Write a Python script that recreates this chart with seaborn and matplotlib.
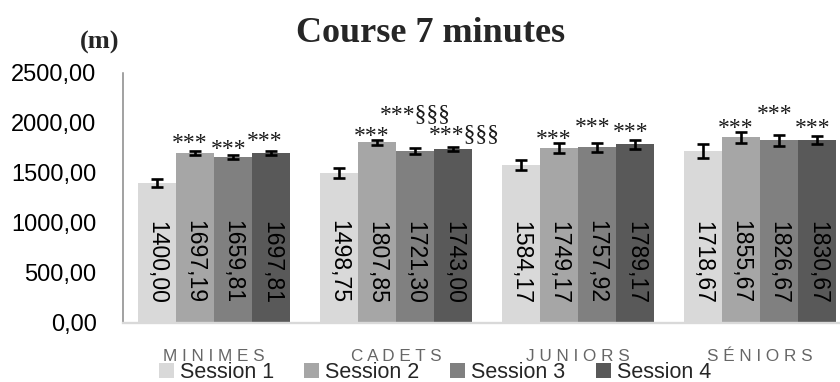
import numpy as np
import pandas as pd
import seaborn as sns
import matplotlib
matplotlib.use("Agg")
import matplotlib.pyplot as plt
from matplotlib import font_manager
from matplotlib.patches import Rectangle
from matplotlib.ticker import FuncFormatter

# ---------------- data ----------------
categories = ["MINIMES", "CADETS", "JUNIORS", "SÉNIORS"]
sessions = ["Session 1", "Session 2", "Session 3", "Session 4"]
session1 = [1400.00, 1498.75, 1584.17, 1718.67]
session2 = [1697.19, 1807.85, 1749.17, 1855.67]
session3 = [1659.81, 1721.30, 1757.92, 1826.67]
session4 = [1697.81, 1743.00, 1789.17, 1830.67]
err1 = [37, 53, 50, 70]
err2 = [20, 23, 48, 57]
err3 = [23, 27, 45, 52]
err4 = [20, 18, 45, 42]
ann1 = ["", "", "", ""]
ann2 = ["***", "***", "***", "***"]
ann3 = ["***", "***§§§", "***", "***"]
ann4 = ["***", "***§§§", "***", "***"]
yticks = [0, 500, 1000, 1500, 2000, 2500]

# ---------------- style ----------------
colors = ["#d9d9d9", "#a6a6a6", "#808080", "#595959"]
# label offsets (points) above error-bar tops, and horizontal nudges
ann_dy = [[0, 0, 0, 0], [2, -1.5, -1, -1.5], [0, 20, 7, 11], [3, 5, 1, 1.5]]
ann_dx = [[0, 0, 0, 0], [-3.5, -3.5, -3.5, -3.5], [-3.5, 0, -3.5, -3.5], [-5, 8, -3.5, -3.5]]

names = {f.name for f in font_manager.fontManager.ttflist}
NARROW = "Liberation Sans Narrow" if "Liberation Sans Narrow" in names else "Liberation Sans"
narrow_scale = 1.0 if NARROW == "Liberation Sans Narrow" else 0.83

sns.set_style("white")
plt.rcParams["font.family"] = ["Liberation Sans", "DejaVu Sans"]

values = [session1, session2, session3, session4]
errs = [err1, err2, err3, err4]
anns = [ann1, ann2, ann3, ann4]

df = pd.DataFrame({
    "category": categories * len(sessions),
    "session": np.repeat(sessions, len(categories)),
    "value": np.concatenate(values),
})

W, H = 840, 382
fig = plt.figure(figsize=(W / 100, H / 100), dpi=100)
ax = fig.add_axes([123 / W, 59 / H, 728 / W, 250 / H])

sns.barplot(data=df, x="category", y="value", hue="session", order=categories,
            hue_order=sessions, palette=colors, saturation=1, width=0.84, gap=0,
            errorbar=None, linewidth=0, ax=ax)

handles, labels = ax.get_legend_handles_labels()
if ax.get_legend() is not None:
    ax.get_legend().remove()

bars = [p for p in ax.patches if isinstance(p, Rectangle) and p.get_height() > 0]
bars = sorted(bars, key=lambda b: b.get_x())

for k, b in enumerate(bars):
    j, si = divmod(k, len(sessions))
    x = b.get_x() + b.get_width() / 2
    h = b.get_height()
    e = errs[si][j]
    ax.errorbar([x], [h], yerr=[e], fmt="none", ecolor="black",
                elinewidth=1.9, capsize=4.3, capthick=1.9, zorder=5)
    ax.annotate(f"{values[si][j]:.2f}".replace(".", ","), (x, 0),
                xytext=(0, 14), textcoords="offset points",
                rotation=270, ha="center", va="bottom",
                fontsize=20 * narrow_scale, family=NARROW, color="black", zorder=6)
    if anns[si][j]:
        ax.annotate(anns[si][j], (x, h + e),
                    xytext=(ann_dx[si][j], ann_dy[si][j]), textcoords="offset points",
                    ha="center", va="baseline", fontsize=17,
                    family="Liberation Serif", color="#1a1a1a", zorder=6)

ax.set_ylim(0, 2500)
ax.set_xlim(-0.5, 3.5)
ax.set_yticks(yticks)
ax.yaxis.set_major_formatter(FuncFormatter(lambda v, p: f"{v:.2f}".replace(".", ",")))
ax.tick_params(axis="y", length=0, pad=19, labelsize=17, labelcolor="black")
ax.set_xticks(range(len(categories)))
ax.set_xticklabels([" ".join(c) for c in categories])
ax.tick_params(axis="x", length=0, pad=18.5, labelsize=12.3, labelcolor="#666666")
ax.set_xlabel("")
ax.set_ylabel("")
ax.grid(False)
for s in ["top", "right"]:
    ax.spines[s].set_visible(False)
ax.spines["left"].set_color("#888888")
ax.spines["left"].set_linewidth(1.1)
ax.spines["bottom"].set_color("#d9d9d9")
ax.spines["bottom"].set_linewidth(1.7)

fig.text(431 / W, 1 - 42 / H, "Course 7 minutes", ha="center", va="baseline",
         fontsize=26, fontweight="bold", family="Liberation Serif")
fig.text(100 / W, 1 - 49 / H, "(m)", ha="center", va="baseline",
         fontsize=19, fontweight="bold", family="Liberation Serif")

fig.legend(handles, labels, loc="lower center", bbox_to_anchor=(435 / W, -0.003),
           ncol=4, frameon=False, prop={"family": NARROW, "size": 15.5},
           handlelength=0.7, handleheight=0.65, handletextpad=0.28,
           columnspacing=1.42, borderpad=0, borderaxespad=0)

fig.savefig("out.png", dpi=100)
